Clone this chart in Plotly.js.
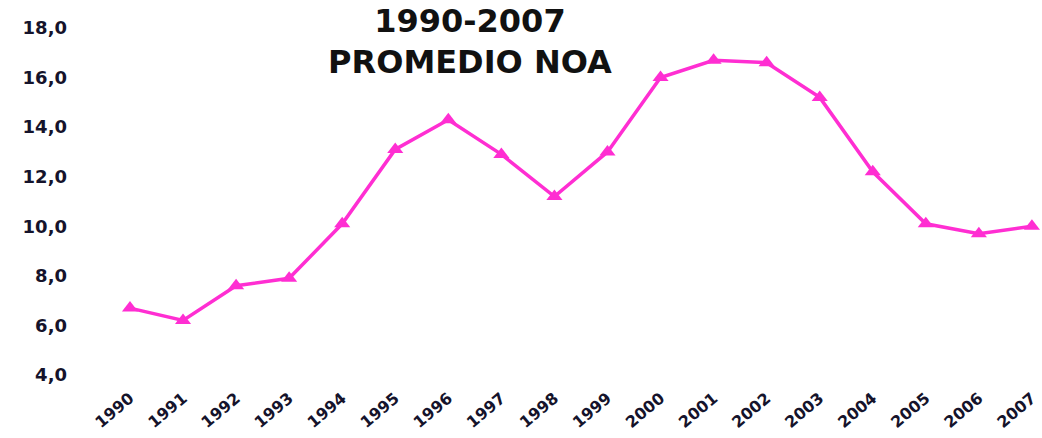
<!DOCTYPE html>
<html>
<head>
<meta charset="utf-8">
<script src="https://cdn.plot.ly/plotly-3.0.1.min.js"></script>
<style>html,body{margin:0;padding:0;background:#fff;}#chart{width:1042px;height:438px;}</style>
</head>
<body>
<div id="chart"></div>
<script>
const years = ["1990","1991","1992","1993","1994","1995","1996","1997","1998","1999","2000","2001","2002","2003","2004","2005","2006","2007"];
const promedioNOA = [6.7, 6.2, 7.6, 7.9, 10.1, 13.1, 14.3, 12.9, 11.2, 13.0, 16.0, 16.7, 16.6, 15.2, 12.2, 10.1, 9.7, 10.0];
const yTicks = [4, 6, 8, 10, 12, 14, 16, 18];

const trace = {
  x: years,
  y: promedioNOA,
  type: 'scatter',
  mode: 'lines+markers',
  line: {color: '#ff2ed2', width: 3.5},
  marker: {symbol: 'triangle-up', size: 14, color: '#ff2ed2'},
  cliponaxis: false,
  hoverinfo: 'x+y'
};

const layout = {
  width: 1042,
  height: 438,
  margin: {l: 100, r: 0, t: 28, b: 63},
  paper_bgcolor: '#ffffff',
  plot_bgcolor: '#ffffff',
  separators: ',.',
  showlegend: false,
  font: {family: 'DejaVu Sans, sans-serif', color: '#15132b'},
  title: {
    text: '<b>1990-2007</b><br><b>PROMEDIO NOA</b>',
    font: {family: 'DejaVu Sans, sans-serif', size: 32, color: '#111111'},
    xref: 'container', x: 0.451, xanchor: 'center',
    yref: 'container', y: 0.928, yanchor: 'top'
  },
  xaxis: {
    type: 'category',
    range: [-0.565, 17.19],
    showgrid: false, zeroline: false, showline: false,
    ticks: '', tickangle: -40,
    ticklabelstandoff: 10,
    tickfont: {family: 'DejaVu Sans, sans-serif', size: 16, color: '#15132b', weight: 'bold'}
  },
  yaxis: {
    range: [4, 18],
    tickvals: yTicks,
    tickformat: '.1f',
    showgrid: false, zeroline: false, showline: false,
    ticks: '',
    ticklabelstandoff: 32,
    tickfont: {family: 'DejaVu Sans, sans-serif', size: 18, color: '#15132b', weight: 'bold'}
  }
};

Plotly.newPlot('chart', [trace], layout, {displayModeBar: false, staticPlot: true});
</script>
</body>
</html>
